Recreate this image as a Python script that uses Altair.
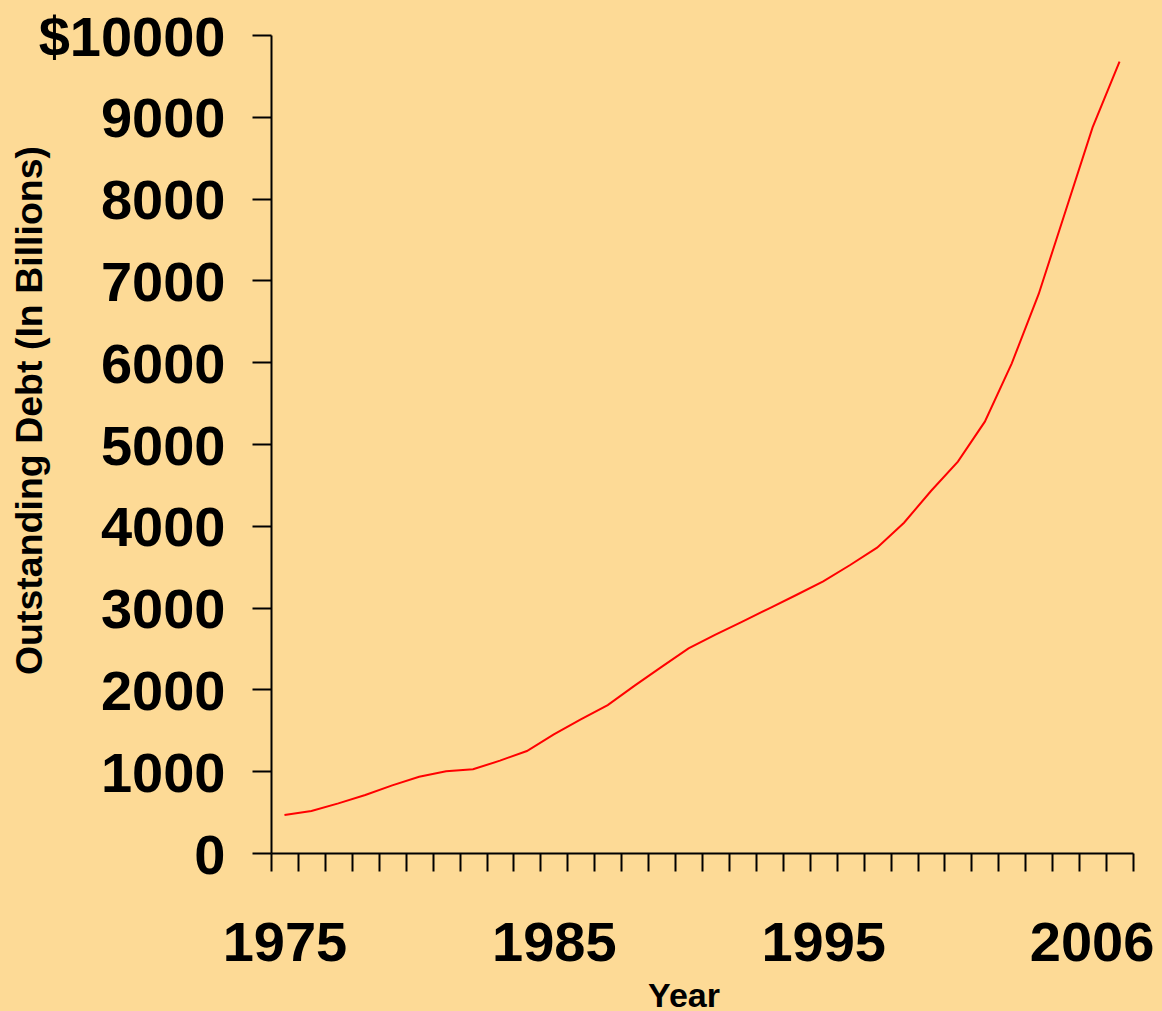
import altair as alt
import pandas as pd

years = list(range(1975, 2007))
debt = [465, 513, 607, 709, 827, 933, 998, 1023, 1129, 1247,
        1450, 1634, 1809, 2046, 2276, 2502, 2669, 2828, 2991, 3154,
        3320, 3521, 3733, 4038, 4425, 4784, 5273, 5986, 6834, 7852,
        8871, 9674]

x_label_years = [1975, 1985, 1995, 2006]
y_ticks = list(range(0, 10001, 1000))

df = pd.DataFrame({"Year": years, "Debt": debt})

FONT = "Liberation Sans"
BG = "#FDDA96"

label_test = " || ".join(f"datum.value == {y}" for y in x_label_years)

chart = alt.Chart(df).mark_line(color="#FF0000", strokeWidth=2).encode(
    x=alt.X(
        "Year:O",
        sort=years,
        scale=alt.Scale(type="band", paddingInner=0, paddingOuter=0),
        axis=alt.Axis(
            tickBand="extent",
            labelExpr=f"({label_test}) ? datum.label : ''",
            labelOffset={"condition": {"test": "datum.value == 2006", "value": -28}, "value": 0},
            tickSize=18, tickWidth=2, tickColor="#000000",
            domainColor="#000000", domainWidth=2,
            labelFont=FONT, labelFontSize=56, labelFontWeight="bold", labelColor="#000000",
            labelBaseline="alphabetic", labelPadding=89, labelOverlap=False, labelFlush=False,
            labelAngle=0, labelLimit=500,
            grid=False,
            title="Year", titleFont=FONT, titleFontSize=34, titleFontWeight="bold",
            titleColor="#000000", titleX=412.5, titleY=153, titleBaseline="alphabetic",
            titleAlign="center",
        ),
    ),
    y=alt.Y(
        "Debt:Q",
        scale=alt.Scale(domain=[0, 10000], nice=False),
        axis=alt.Axis(
            values=y_ticks,
            format="d",
            labelExpr="datum.value == 10000 ? '$' + datum.label : datum.label",
            tickSize=19, tickWidth=2, tickColor="#000000",
            domainColor="#000000", domainWidth=2,
            labelFont=FONT, labelFontSize=56, labelFontWeight="bold", labelColor="#000000",
            labelBaseline="alphabetic", labelOffset=20, labelPadding=27, labelOverlap=False,
            labelFlush=False, labelLimit=500,
            grid=False,
            title="Outstanding Debt (In Billions)", titleFont=FONT, titleFontSize=37.5,
            titleFontWeight="bold", titleColor="#000000", titleAngle=270,
            titleX=-229.5, titleY=375, titleBaseline="alphabetic", titleAlign="center",
        ),
    ),
).properties(
    width=862,
    height=818,
    autosize=alt.AutoSizeParams(type="none"),
    padding={"left": 271, "top": 35, "right": 29, "bottom": 158},
    background=BG,
).configure_view(stroke=None)

chart.save("out.html", embed_options={"renderer": "svg", "actions": False})
